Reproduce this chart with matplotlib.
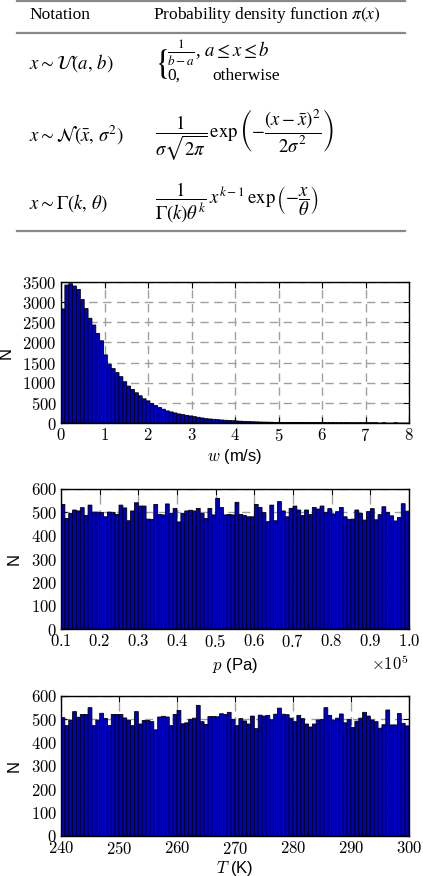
import numpy as np
import matplotlib
matplotlib.use("Agg")
import matplotlib.pyplot as plt
from matplotlib.ticker import FuncFormatter, MultipleLocator

plt.rcParams['font.family'] = 'Liberation Sans'
plt.rcParams['mathtext.fontset'] = 'cm'

# --- datos leidos del histograma (90 bins en cada caso) ---
# velocidad de viento w (m/s), 0 a 8
w_lo, w_hi = 0.0, 8.0
w_counts = np.array([
    2832, 3424, 3457, 3400, 3316, 3066, 2840, 2600, 2432, 2224,
    2041, 1691, 1458, 1350, 1250, 1150, 1025, 916, 833, 750,
    675, 600, 550, 483, 433, 383, 342, 300, 275, 250,
    225, 208, 190, 175, 158, 142, 125, 108, 100, 92,
    83, 75, 68, 62, 56, 50, 45, 40, 36, 32,
    28, 25, 22, 20, 18, 16, 14, 12, 11, 10,
    9, 8, 7, 6, 5, 5, 4, 4, 3, 3,
    3, 2, 2, 2, 2, 1, 1, 1, 1, 1,
    1, 1, 0, 1, 0, 0, 1, 0, 0, 0])

# presion p (Pa), 1e4 a 1e5
p_lo, p_hi = 1.0e4, 1.0e5
p_counts = np.array([
    534, 474, 496, 510, 506, 520, 487, 531, 501, 501,
    499, 481, 501, 500, 491, 531, 519, 464, 506, 541,
    527, 527, 471, 470, 534, 491, 489, 536, 496, 517,
    459, 496, 506, 509, 506, 517, 496, 474, 517, 489,
    560, 521, 489, 491, 489, 543, 491, 486, 481, 481,
    534, 521, 499, 460, 531, 464, 546, 506, 481, 517,
    527, 510, 486, 510, 491, 521, 514, 527, 500, 516,
    493, 503, 521, 481, 470, 471, 510, 496, 467, 503,
    516, 468, 490, 524, 500, 485, 463, 478, 537, 505])

# temperatura T (K), 240 a 300
T_lo, T_hi = 240.0, 300.0
T_counts = np.array([
    507, 473, 497, 533, 509, 521, 521, 550, 473, 497, 526, 504, 473, 521, 521,
    521, 506, 497, 473, 533, 480, 495, 495, 490, 455, 510, 513, 510, 473, 521,
    538, 481, 485, 500, 505, 560, 490, 478, 512, 512, 511, 524, 521, 530, 500,
    473, 503, 493, 480, 514, 460, 518, 514, 517, 498, 522, 548, 522, 520, 505,
    490, 517, 503, 480, 467, 480, 497, 500, 550, 517, 497, 505, 523, 485, 500,
    465, 492, 505, 530, 514, 497, 490, 462, 477, 540, 476, 476, 525, 483, 472])

W, H = 423, 876
fig = plt.figure(figsize=(W / 100, H / 100), dpi=100)

# %% tabla de distribuciones
tab_h = 240
ax_t = fig.add_axes([0, 1 - tab_h / H, 1, tab_h / H])
ax_t.set_xlim(0, W)
ax_t.set_ylim(tab_h, 0)
ax_t.axis('off')

for yy in [1, 33, 231]:
    ax_t.plot([17, 405], [yy, yy], color='#888888', lw=1.6)

ser = dict(family='Liberation Serif', math_fontfamily='stix', fontsize=12.5,
           va='center', ha='left')
mat = dict(ser, fontsize=13.5)
ax_t.text(29, 15, 'Notation', **ser)
ax_t.text(153, 15, r'Probability density function $\pi(x)$', **ser)

ax_t.text(29, 63, r'$x \sim \mathcal{U}(a,\,b)$', **mat)
ax_t.text(154, 64, r'$\{$', family='Liberation Serif', math_fontfamily='stix',
          fontsize=25, va='center', ha='left')
ax_t.text(167, 53, r'$\frac{1}{b-a}$, $a \leq x \leq b$', **mat)
ax_t.text(167, 76, '0,', **ser)
ax_t.text(212, 76, 'otherwise', **ser)

ax_t.text(29, 135, r'$x \sim \mathcal{N}(\bar{x},\,\sigma^2)$', **mat)
ax_t.text(155, 135, r'$\dfrac{1}{\sigma\sqrt{2\pi}}\,\exp\left(-\dfrac{(x-\bar{x})^2}{2\sigma^2}\right)$', **mat)

ax_t.text(29, 203, r'$x \sim \Gamma(k,\,\theta)$', **mat)
ax_t.text(155, 203, r'$\dfrac{1}{\Gamma(k)\theta^k}\,x^{k-1}\,\exp\left(-\dfrac{x}{\theta}\right)$', **mat)


# %% histogramas
def histo(rect, lo, hi, counts, ymax, ystep, xstep, xfmt, xlabel, ylab_x, lpad):
    ax = fig.add_axes(rect)
    edges = np.linspace(lo, hi, len(counts) + 1)
    ax.bar(edges[:-1], counts, width=edges[1] - edges[0], align='edge',
           color='#0000c0', edgecolor='black', linewidth=0.6, zorder=2,
           snap=False)
    ax.set_xlim(lo, hi)
    ax.set_ylim(0, ymax)
    ax.xaxis.set_major_locator(MultipleLocator(xstep))
    ax.yaxis.set_major_locator(MultipleLocator(ystep))
    ax.xaxis.set_major_formatter(FuncFormatter(xfmt))
    ax.yaxis.set_major_formatter(FuncFormatter(lambda v, p: f'${v:g}$'))
    ax.set_axisbelow(True)
    ax.grid(True, color='#a0a0a0', linestyle=(0, (6, 4)), linewidth=1)
    ax.tick_params(direction='in', top=True, right=True, length=4,
                   labelsize=12, pad=3)
    for s in ax.spines.values():
        s.set_linewidth(1.0)
    ax.set_xlabel(xlabel, fontsize=12, labelpad=lpad)
    ax.set_ylabel('N', fontsize=12)
    ax.yaxis.set_label_coords(ylab_x, 0.5)
    return ax


left, width = 61 / W, 348 / W
histo([left, 1 - 423 / H, width, 141 / H], w_lo, w_hi, w_counts, 3500, 500, 1,
      lambda v, p: f'${v:g}$', r'$w$ (m/s)', -0.135, 2)

ax2 = histo([left, 1 - 629 / H, width, 140 / H], p_lo, p_hi, p_counts, 600, 100, 1e4,
            lambda v, p: f'${v / 1e5:.1f}$', r'$p$ (Pa)', -0.112, 4)
ax2.text(1.0, -0.245, r'$\times10^{5}$', transform=ax2.transAxes,
         fontsize=12, ha='right', va='center')

histo([left, 1 - 836 / H, width, 140 / H], T_lo, T_hi, T_counts, 600, 100, 10,
      lambda v, p: f'${v:g}$', r'$T$ (K)', -0.112, 1)

fig.savefig('out.png', dpi=100)
